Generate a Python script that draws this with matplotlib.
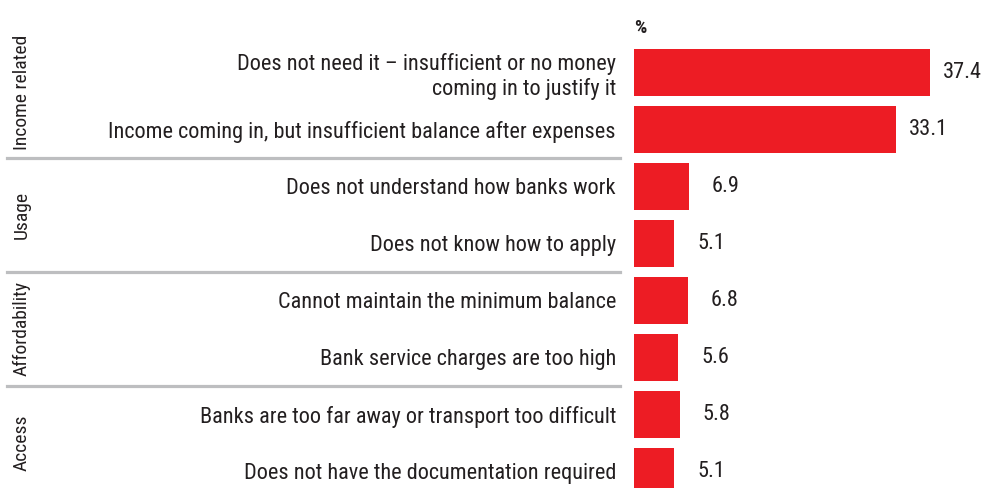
import matplotlib
matplotlib.use("Agg")
import matplotlib.pyplot as plt

plt.rcParams['font.family'] = ['Roboto Condensed', 'DejaVu Sans']

# reasons for not having a bank account, top to bottom
reasons = [
    "Does not need it \u2013 insufficient or no money\ncoming in to justify it",
    "Income coming in, but insufficient balance after expenses",
    "Does not understand how banks work",
    "Does not know how to apply",
    "Cannot maintain the minimum balance",
    "Bank service charges are too high",
    "Banks are too far away or transport too difficult",
    "Does not have the documentation required",
]
values = [37.4, 33.1, 6.9, 5.1, 6.8, 5.6, 5.8, 5.1]
groups = ["Income related", "Usage", "Affordability", "Access"]
group_size = 2

RED = "#ED1C24"
TEXT = "#231F20"
RULE = "#BDBEC0"

W, H = 984, 488
fig = plt.figure(figsize=(W / 100, H / 100), dpi=100)
x0 = 634
ax = fig.add_axes([x0 / W, 0, (W - x0) / W, 1])

rows = list(range(len(values)))
ax.barh(rows, values, height=0.82, color=RED)

px_per_row = 57.0
top_px = 72.5
ax.set_ylim((H - top_px) / px_per_row, -top_px / px_per_row)
ax.set_xlim(0, (W - x0) / 7.91)

ax.set_yticks(rows)
ax.set_yticklabels(reasons, fontsize=16, color=TEXT, linespacing=1.15)
ax.tick_params(axis='y', length=0, pad=13)
ax.set_xticks([])
for s in ax.spines.values():
    s.set_visible(False)

# value labels to the right of each bar
for r, v in zip(rows, values):
    gap = 13 if v > 20 else 23
    ax.annotate(f"{v:.1f}", xy=(v, r), xytext=(gap, 0), textcoords="offset pixels",
                ha="left", va="center", fontsize=16, color=TEXT)

# group separators and rotated group names
span = W - x0
for g, name in enumerate(groups):
    first = g * group_size
    center = first + (group_size - 1) / 2
    if g == 0:
        center -= 0.15
    ax.text((22 - x0) / span, center, name, transform=ax.get_yaxis_transform(),
            rotation=90, ha="center", va="center", fontsize=14, color=TEXT)
    if g > 0:
        ax.axhline(first - 0.5, xmin=(7 - x0) / span, xmax=(620 - x0) / span,
                   color=RULE, lw=2.3, clip_on=False)

ax.text(0, 1 - 28 / H, "%", transform=ax.transAxes, ha="left", va="center",
        fontsize=14, fontweight="bold", family="Roboto Condensed", color=TEXT)

fig.savefig("out.png", dpi=100)
